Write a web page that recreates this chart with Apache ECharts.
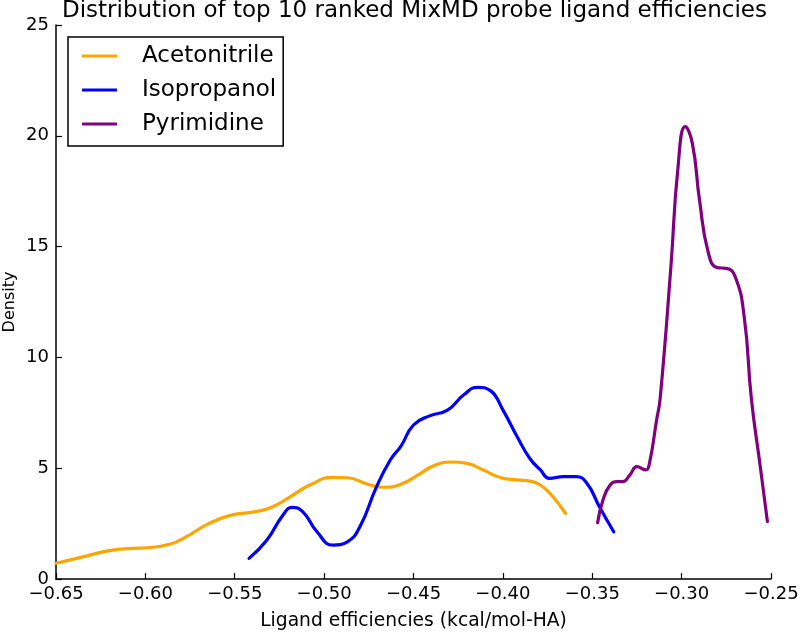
<!DOCTYPE html>
<html>
<head>
<meta charset="utf-8">
<script src="https://cdn.jsdelivr.net/npm/echarts@6/dist/echarts.min.js"></script>
<style>html,body{margin:0;padding:0;background:#fff}#c{width:800px;height:632px}</style>
</head>
<body>
<div id="c"></div>
<script>
var titleText = 'Distribution of top 10 ranked MixMD probe ligand efficiencies';
var xName = 'Ligand efficiencies (kcal/mol-HA)';
var yName = 'Density';
var seriesNames = ['Acetonitrile', 'Isopropanol', 'Pyrimidine'];

var acetoX = [-0.650,-0.635,-0.620,-0.607,-0.599,-0.586,-0.577,-0.566,-0.553,-0.540,-0.530,-0.519,-0.508,-0.495,-0.487,-0.476,-0.467,-0.457,-0.446,-0.439,-0.429,-0.420,-0.411,-0.401,-0.392,-0.385,-0.379,-0.372,-0.365];
var acetoY = [0.71,1.00,1.28,1.38,1.41,1.58,1.91,2.44,2.86,3.02,3.22,3.71,4.24,4.59,4.57,4.29,4.14,4.28,4.77,5.10,5.28,5.22,4.92,4.57,4.47,4.42,4.24,3.71,2.96];

var isoX = [-0.542,-0.532,-0.523,-0.518,-0.512,-0.504,-0.495,-0.487,-0.480,-0.471,-0.463,-0.457,-0.450,-0.441,-0.431,-0.422,-0.414,-0.407,-0.400,-0.392,-0.385,-0.379,-0.374,-0.366,-0.359,-0.353,-0.346,-0.338];
var isoY = [0.93,1.76,2.89,3.23,3.04,2.13,1.53,1.68,2.36,4.10,5.37,6.00,6.95,7.36,7.62,8.30,8.65,8.50,7.63,6.42,5.45,4.92,4.54,4.62,4.62,4.32,3.26,2.13];

var pyrX = [-0.347,-0.344,-0.340,-0.336,-0.333,-0.329,-0.325,-0.320,-0.318,-0.314,-0.312,-0.306,-0.302,-0.298,-0.294,-0.290,-0.285,-0.280,-0.275,-0.270,-0.265,-0.261,-0.256,-0.252];
var pyrY = [2.54,3.56,4.24,4.39,4.39,4.69,5.07,4.92,5.22,7.18,8.15,14.1,18.6,20.41,19.66,17.1,14.7,14.05,14.02,13.64,11.84,8.15,5.07,2.59];

var colors = ['#FFA500', '#0000FF', '#800080'];

function pairs(xs, ys) { return xs.map(function (x, i) { return [x, ys[i]]; }); }

var font = 'DejaVu Sans';
var chart = echarts.init(document.getElementById('c'), null, {renderer: 'canvas'});
var mkSeries = function (name, xs, ys, color) {
  return {
    name: name, type: 'line', data: pairs(xs, ys), smooth: 0.5,
    showSymbol: false, symbol: 'none', color: color,
    lineStyle: {color: color, width: 3.2, cap: 'round', join: 'round'}, animation: false
  };
};
chart.setOption({
  animation: false,
  title: {
    text: titleText, left: 62, top: 0, padding: 0,
    textStyle: {fontFamily: font, fontSize: 23, fontWeight: 'normal', color: '#000'}
  },
  grid: {left: 56, right: 29, top: 25, bottom: 53, containLabel: false, outerBoundsMode: 'none'},
  legend: {
    orient: 'vertical', left: 68, top: 37,
    padding: [6, 7, 9, 14],
    borderColor: '#000', borderWidth: 1.5, backgroundColor: '#fff',
    itemWidth: 35, itemHeight: 14, itemGap: 8,
    icon: 'path://M0,5.4L35,5.4L35,8.6L0,8.6Z',
    data: seriesNames,
    textStyle: {fontFamily: font, fontSize: 23, color: '#000', lineHeight: 26, padding: [0, 0, 0, 20]}
  },
  xAxis: {
    type: 'value', min: -0.65, max: -0.25, interval: 0.05,
    name: xName, nameLocation: 'middle', nameGap: 33, nameMoveOverlap: false,
    nameTextStyle: {fontFamily: font, fontSize: 18.7, color: '#000'},
    axisLine: {show: true, lineStyle: {color: '#000', width: 1.5}},
    axisTick: {show: true, inside: true, length: 6, lineStyle: {color: '#000', width: 1.2}},
    axisLabel: {
      fontFamily: font, fontSize: 18, color: '#000', margin: 6,
      formatter: function (v) { return (v < 0 ? '\u2212' : '') + Math.abs(v).toFixed(2); }
    },
    splitLine: {show: false}
  },
  yAxis: {
    type: 'value', min: 0, max: 25, interval: 5,
    name: yName, nameLocation: 'middle', nameGap: 38, nameRotate: 90, nameMoveOverlap: false,
    nameTextStyle: {fontFamily: font, fontSize: 16, color: '#000'},
    axisLine: {show: true, lineStyle: {color: '#000', width: 1.5}},
    axisTick: {show: true, inside: true, length: 6, lineStyle: {color: '#000', width: 1.2}},
    axisLabel: {fontFamily: font, fontSize: 18, color: '#000', margin: 7},
    splitLine: {show: false}
  },
  series: [
    mkSeries(seriesNames[0], acetoX, acetoY, colors[0]),
    mkSeries(seriesNames[1], isoX, isoY, colors[1]),
    mkSeries(seriesNames[2], pyrX, pyrY, colors[2])
  ]
});
</script>
</body>
</html>
